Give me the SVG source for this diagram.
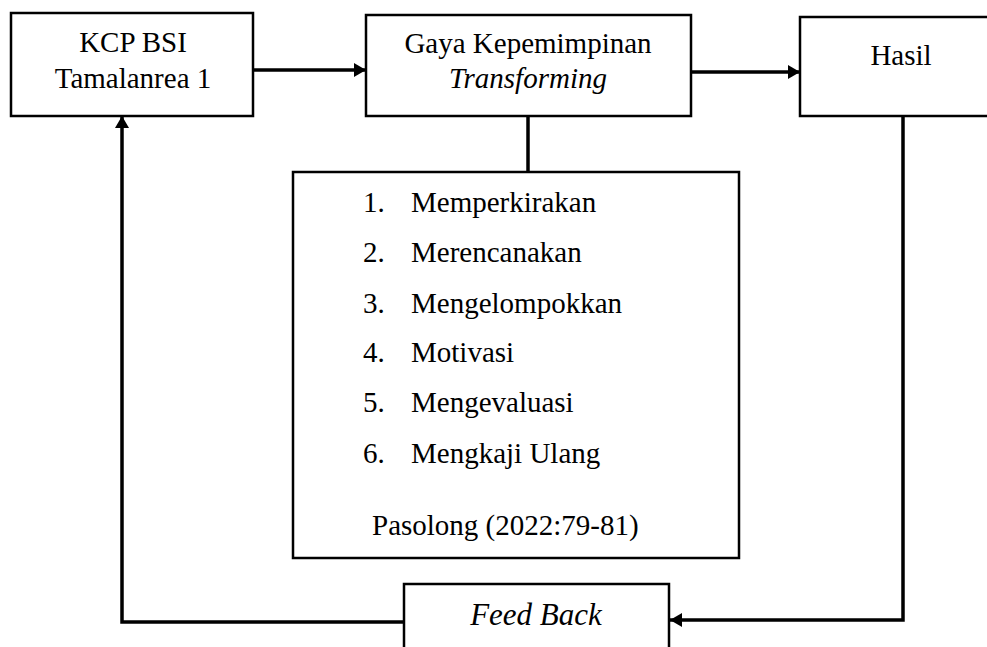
<svg xmlns="http://www.w3.org/2000/svg" width="987" height="647" viewBox="0 0 987 647">
<style>
.box{fill:#fff;stroke:#000;stroke-width:2.5}
.t{font-family:"Liberation Serif","Times New Roman",serif;font-size:29px;fill:#000}
.l{font-family:"Liberation Serif","Times New Roman",serif;font-size:29px;fill:#000}
.i{font-style:italic}
.fb{font-size:31px}
.c{fill:none;stroke:#000;stroke-width:3.5}
</style>
<defs>
<marker id="ah" viewBox="0 0 12 14" refX="12" refY="7" markerWidth="12" markerHeight="14" markerUnits="userSpaceOnUse" orient="auto">
<path d="M0,0 L12,7 L0,14 Z" fill="#000"/>
</marker>
</defs>
<g id="connectors">
<path class="c" d="M253,70 H366" marker-end="url(#ah)"/>
<path class="c" d="M691,72 H800" marker-end="url(#ah)"/>
<path class="c" d="M528,116 V172"/>
<path class="c" d="M903,116 V620 H670" marker-end="url(#ah)"/>
<path class="c" d="M404,622 H122 V116" marker-end="url(#ah)"/>
</g>
<g id="kcp">
<rect class="box" x="11" y="13" width="242" height="103"/>
<text class="t" x="133" y="52" text-anchor="middle">KCP BSI</text>
<text class="t" x="133" y="88" text-anchor="middle">Tamalanrea 1</text>
</g>
<g id="gaya">
<rect class="box" x="366" y="15" width="325" height="101"/>
<text class="t" x="528" y="53" text-anchor="middle">Gaya Kepemimpinan</text>
<text class="t i" x="528" y="88" text-anchor="middle">Transforming</text>
</g>
<g id="hasil">
<rect class="box" x="800" y="17" width="200" height="99"/>
<text class="t" x="901" y="65" text-anchor="middle">Hasil</text>
</g>
<g id="list">
<rect class="box" x="293" y="172" width="446" height="386"/>
<text class="l" x="363" y="212">1.</text><text class="l" x="411" y="212">Memperkirakan</text>
<text class="l" x="363" y="262">2.</text><text class="l" x="411" y="262">Merencanakan</text>
<text class="l" x="363" y="313">3.</text><text class="l" x="411" y="313">Mengelompokkan</text>
<text class="l" x="363" y="362">4.</text><text class="l" x="411" y="362">Motivasi</text>
<text class="l" x="363" y="412">5.</text><text class="l" x="411" y="412">Mengevaluasi</text>
<text class="l" x="363" y="463">6.</text><text class="l" x="411" y="463">Mengkaji Ulang</text>
<text class="l" x="372" y="535">Pasolong (2022:79-81)</text>
</g>
<g id="feedback">
<rect class="box" x="404" y="584" width="265" height="80"/>
<text class="l i fb" x="536" y="625" text-anchor="middle">Feed Back</text>
</g>
</svg>
